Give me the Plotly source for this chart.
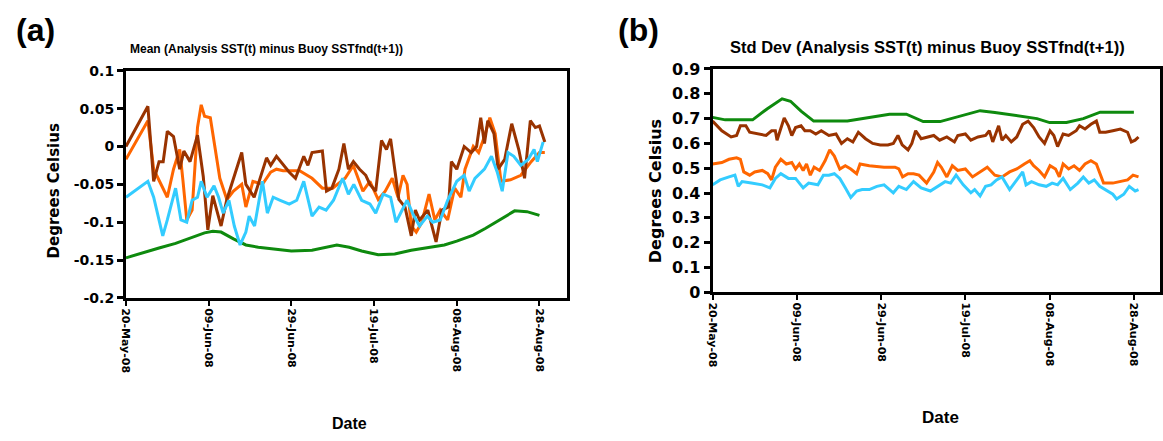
import pandas as pd
import plotly.graph_objects as go

W, H = 1163, 441
BASE = pd.Timestamp("2008-05-20")

# ---------------- Panel (a): Mean ----------------
a_brown_days = [0, 5.3, 6.7, 8, 9, 10, 11.5, 13, 14, 15.5, 17.3, 18.7, 19.8, 21, 23, 24.4, 28, 29, 31, 34, 35, 36.4,
                39.5, 41, 43, 44, 45, 47.5, 48.5, 49.8, 51.5, 52.7, 53.8, 55, 56.5, 58, 59, 60.4, 61.8, 63, 64, 65,
                66, 67.5, 69, 70, 71, 73, 75, 76.4, 78, 78.7, 80, 81.8, 83.5, 84.8, 85.8, 86.7, 87.5, 89, 90, 91.6,
                93.3, 95, 96.4, 97.8, 99, 100, 101.3]
a_brown_vals = [0.0, 0.053, -0.046, -0.02, -0.02, 0.02, 0.013, -0.03, -0.006, -0.02, 0.015, -0.04, -0.11, -0.065,
                -0.105, -0.07, -0.008, -0.05, -0.067, -0.015, -0.025, -0.013, -0.034, -0.042, -0.013, -0.025, -0.008,
                -0.006, -0.059, -0.055, -0.03, 0.004, -0.03, -0.02, -0.03, -0.038, -0.05, -0.059, 0.008, -0.004, 0.01,
                -0.03, -0.07, -0.08, -0.118, -0.084, -0.097, -0.084, -0.126, -0.084, -0.08, -0.02, -0.03, 0.0, -0.008,
                0.0, 0.038, 0.004, 0.034, 0.017, -0.03, -0.017, 0.03, -0.004, -0.042, 0.034, 0.025, 0.027, 0.006]

a_orange_days = [0, 5.3, 6.7, 8.4, 10, 11.5, 13, 13.8, 14.7, 16, 17.3, 18.2, 19, 20.4, 21.8, 22.7, 24.4, 26, 28, 29,
                 30.7, 33, 35, 36.4, 38, 42, 45, 47.5, 50, 53, 55, 57.3, 59, 61, 62.7, 64.4, 65.8, 67, 68, 69, 70.2,
                 71.5, 73.3, 74.7, 76, 77.8, 79.5, 81, 82, 84, 85.3, 86.7, 88, 89.3, 90.7, 93, 95.5, 98, 100, 101.3]
a_orange_vals = [-0.017, 0.034, -0.03, -0.05, -0.067, -0.03, -0.004, -0.046, -0.097, -0.084, 0.025, 0.055, 0.04,
                 0.038, -0.008, -0.042, -0.07, -0.059, -0.05, -0.08, -0.046, -0.05, -0.034, -0.03, -0.032, -0.032,
                 -0.042, -0.055, -0.055, -0.042, -0.025, -0.059, -0.046, -0.07, -0.059, -0.042, -0.067, -0.038,
                 -0.05, -0.105, -0.113, -0.101, -0.063, -0.097, -0.084, -0.097, -0.055, -0.067, -0.03, 0.0, -0.008,
                 0.013, 0.038, 0.017, -0.046, -0.044, -0.038, -0.02, -0.008, -0.008]

a_blue_days = [0, 5.3, 6.7, 8.9, 10, 12, 13.3, 14.7, 16, 17.3, 18.2, 19.6, 21.3, 22.4, 23.5, 24.9, 26.2, 27.6, 29,
               29.8, 31.1, 33, 34.2, 35.6, 37.3, 39.5, 41.3, 43, 45, 46.7, 48.4, 50.2, 52.4, 53.8, 55.1, 57, 59, 60.4,
               62.2, 64, 65.3, 66.7, 68, 69.3, 71, 72.9, 74.2, 76, 77.8, 80, 81.8, 83, 84.4, 86.7, 88.4, 89.8, 91,
               92.4, 93.8, 95.5, 97.3, 98.7, 99.5, 100.9]
a_blue_vals = [-0.067, -0.046, -0.067, -0.118, -0.097, -0.055, -0.097, -0.1, -0.071, -0.067, -0.046, -0.067, -0.052,
               -0.067, -0.088, -0.071, -0.105, -0.13, -0.113, -0.092, -0.105, -0.046, -0.088, -0.067, -0.071, -0.076,
               -0.071, -0.046, -0.092, -0.08, -0.084, -0.071, -0.042, -0.063, -0.05, -0.071, -0.076, -0.088, -0.063,
               -0.067, -0.1, -0.084, -0.071, -0.088, -0.105, -0.092, -0.1, -0.097, -0.071, -0.046, -0.038, -0.059,
               -0.042, -0.03, -0.013, -0.034, -0.059, -0.008, -0.013, -0.025, -0.017, -0.004, -0.02, 0.006]

a_green_days = [0, 4, 8, 12, 16, 19, 21, 23, 26, 29, 32, 36, 40, 45, 48, 51, 54, 57, 61, 65, 69, 73, 77, 80, 84, 87,
                91, 94, 97, 100]
a_green_vals = [-0.147, -0.14, -0.134, -0.128, -0.12, -0.114, -0.112, -0.113, -0.122, -0.13, -0.133, -0.135, -0.138,
                -0.137, -0.133, -0.13, -0.133, -0.138, -0.143, -0.142, -0.137, -0.133, -0.13, -0.125, -0.117, -0.108,
                -0.095, -0.085, -0.086, -0.091]

# ---------------- Panel (b): Std Dev ----------------
b_brown_days = [0, 2.2, 4.4, 5.7, 6.6, 7.9, 8.8, 11, 12.7, 14, 14.9, 15.3, 16.2, 17, 18, 18.8, 19.7, 21, 21.9, 23.2,
                24.5, 25.8, 27.6, 29.3, 30.6, 32, 33.3, 34.6, 36.3, 38, 39.8, 41.6, 42.9, 44, 45, 46.4, 47.3, 48.2,
                49.5, 51.2, 52.5, 53.9, 55.6, 57.4, 58.2, 60, 61.3, 63, 64.8, 65.7, 66.5, 67.9, 68.7, 69.6, 70.9,
                72.2, 73.6, 74.9, 76.2, 77.5, 78.8, 80.1, 81, 81.9, 83.2, 84.5, 86.3, 87.1, 88.4, 89.8, 91.1, 91.9,
                93.3, 95, 96.8, 98.5, 99.4, 100.3, 101.1]
b_brown_vals = [0.690, 0.651, 0.626, 0.632, 0.671, 0.671, 0.645, 0.638, 0.632, 0.651, 0.651, 0.613, 0.664, 0.703,
                0.671, 0.632, 0.664, 0.671, 0.651, 0.651, 0.638, 0.651, 0.632, 0.638, 0.600, 0.619, 0.606, 0.645,
                0.619, 0.600, 0.594, 0.594, 0.600, 0.632, 0.594, 0.574, 0.600, 0.651, 0.619, 0.626, 0.632, 0.613,
                0.626, 0.606, 0.632, 0.638, 0.613, 0.626, 0.632, 0.651, 0.606, 0.671, 0.613, 0.632, 0.606, 0.626,
                0.677, 0.690, 0.664, 0.626, 0.600, 0.651, 0.632, 0.587, 0.638, 0.632, 0.651, 0.671, 0.658, 0.677,
                0.690, 0.645, 0.645, 0.651, 0.658, 0.645, 0.606, 0.613, 0.626]

b_orange_days = [0, 2.2, 3.9, 5.7, 6.6, 7.4, 8.8, 10, 11.8, 13.1, 14, 14.9, 16.2, 17.5, 18.8, 19.7, 20.6, 21.5, 22.3,
                 23.2, 24.1, 25.4, 26.7, 27.8, 28.9, 30.2, 31.5, 32.8, 34.2, 35, 37.2, 40.7, 43.3, 44.2, 45.1, 46.4,
                 47.7, 49, 50.8, 52.5, 53.4, 54.3, 55.6, 56.9, 58.2, 60, 61.7, 63.5, 65.2, 67, 68.7, 70.5, 72.2, 74,
                 75.3, 76.2, 77.5, 78.8, 80.1, 81.4, 82.3, 83.2, 84.5, 85.8, 87.1, 88.4, 89.8, 91.1, 91.9, 92.8, 95,
                 96.8, 98.5, 99.8, 101.1]
b_orange_vals = [0.517, 0.523, 0.536, 0.542, 0.536, 0.485, 0.472, 0.485, 0.491, 0.478, 0.453, 0.504, 0.536, 0.517,
                 0.523, 0.497, 0.517, 0.491, 0.517, 0.472, 0.504, 0.491, 0.530, 0.574, 0.549, 0.497, 0.510, 0.497,
                 0.478, 0.517, 0.510, 0.504, 0.504, 0.497, 0.465, 0.478, 0.478, 0.472, 0.440, 0.485, 0.523, 0.504,
                 0.465, 0.510, 0.491, 0.497, 0.465, 0.485, 0.504, 0.472, 0.465, 0.485, 0.497, 0.517, 0.530, 0.510,
                 0.491, 0.465, 0.510, 0.497, 0.465, 0.517, 0.497, 0.510, 0.491, 0.517, 0.530, 0.517, 0.478, 0.440,
                 0.440, 0.446, 0.453, 0.472, 0.465]

b_blue_days = [0, 1.8, 3.9, 5.3, 6.1, 7, 9.2, 11.8, 13.6, 14.9, 16.2, 18, 19.7, 21.5, 22.8, 25, 26.3, 27.6, 28.9,
               30.2, 31.5, 32.8, 34.2, 35.5, 37.2, 39, 40.7, 42.9, 44.2, 46, 47.7, 49.5, 51.7, 53.4, 55.2, 56.5, 57.8,
               59.5, 61.3, 62.2, 63.5, 64.8, 66.1, 67.4, 68.7, 70.5, 72.2, 73.6, 74.4, 75.7, 77.5, 79.2, 80.6, 81.9,
               83.2, 84.9, 86.7, 88, 89.3, 90.6, 91.9, 93.3, 95, 95.9, 97.6, 98.9, 100.3, 101.1]
b_blue_vals = [0.433, 0.453, 0.465, 0.472, 0.427, 0.446, 0.440, 0.433, 0.421, 0.459, 0.478, 0.459, 0.459, 0.421,
               0.440, 0.433, 0.472, 0.472, 0.478, 0.459, 0.421, 0.382, 0.408, 0.414, 0.414, 0.427, 0.433, 0.401,
               0.427, 0.414, 0.446, 0.421, 0.408, 0.427, 0.446, 0.440, 0.472, 0.433, 0.401, 0.414, 0.388, 0.427,
               0.433, 0.453, 0.465, 0.414, 0.453, 0.485, 0.433, 0.446, 0.433, 0.427, 0.440, 0.433, 0.459, 0.414,
               0.440, 0.465, 0.440, 0.453, 0.427, 0.414, 0.395, 0.376, 0.395, 0.427, 0.408, 0.414]

b_green_days = [0, 3, 9.5, 13, 16.5, 18.5, 21, 24, 32, 37, 42, 46, 50, 54, 59, 63.5, 67, 72, 77, 80, 84, 88, 92, 100]
b_green_vals = [0.705, 0.695, 0.695, 0.74, 0.78, 0.77, 0.73, 0.69, 0.69, 0.705, 0.718, 0.718, 0.688, 0.688, 0.712,
                0.732, 0.725, 0.712, 0.70, 0.684, 0.684, 0.70, 0.726, 0.726]

a_yticks = [0.1, 0.05, 0, -0.05, -0.1, -0.15, -0.2]
a_yticktext = ["0.1", "0.05", "0", "-0.05", "-0.1", "-0.15", "-0.2"]
b_yticks = [0, 0.1, 0.2, 0.3, 0.4, 0.5, 0.6, 0.7, 0.8, 0.9]
b_yticktext = ["0", "0.1", "0.2", "0.3", "0.4", "0.5", "0.6", "0.7", "0.8", "0.9"]

title_a = "Mean (Analysis SST(t) minus Buoy SSTfnd(t+1))"
title_b = "Std Dev (Analysis SST(t) minus Buoy SSTfnd(t+1))"

BROWN, ORANGE, BLUE, GREEN = "#993300", "#FF6600", "#33CCFF", "#0E8A0E"
FONT = "Liberation Sans, Arial, sans-serif"
WIDE = "DejaVu Sans, sans-serif"


def to_dates(days):
    return [BASE + pd.Timedelta(days=d) for d in days]


fig = go.Figure()
panels = [
    ("x", "y", [(a_green_days, a_green_vals, GREEN), (a_orange_days, a_orange_vals, ORANGE),
                (a_brown_days, a_brown_vals, BROWN), (a_blue_days, a_blue_vals, BLUE)]),
    ("x2", "y2", [(b_green_days, b_green_vals, GREEN), (b_orange_days, b_orange_vals, ORANGE),
                  (b_brown_days, b_brown_vals, BROWN), (b_blue_days, b_blue_vals, BLUE)]),
]
for xa, ya, series in panels:
    for days, vals, col in series:
        fig.add_trace(go.Scatter(x=to_dates(days), y=vals, mode="lines", xaxis=xa, yaxis=ya,
                                 line=dict(color=col, width=3), showlegend=False, hoverinfo="skip"))


def px_x(p):
    return p / W


def px_y(p):
    return 1 - p / H


common_x = dict(type="date", tickformat="%d-%b-%y", tick0="2008-05-20", dtick=20 * 86400000,
                tickangle=90, ticks="outside", ticklen=5, tickwidth=2, tickcolor="black",
                showline=True, linecolor="black", linewidth=3, mirror=True, showgrid=False, zeroline=False,
                tickfont=dict(family=WIDE, size=11, color="black", weight="bold"))
common_y = dict(ticks="outside", ticklen=6, tickwidth=3, tickcolor="black",
                showline=True, linecolor="black", linewidth=3, mirror=True, showgrid=False, zeroline=False)

fig.update_layout(
    width=W, height=H, margin=dict(l=0, r=0, t=0, b=0),
    paper_bgcolor="white", plot_bgcolor="white", showlegend=False,
    xaxis=dict(common_x, domain=[px_x(120), px_x(565)], anchor="y",
               range=[BASE, BASE + pd.Timedelta(days=106.7)]),
    yaxis=dict(common_y, domain=[px_y(302), px_y(64.5)], anchor="x", range=[-0.2, 0.1],
               tickvals=a_yticks, ticktext=a_yticktext,
               tickfont=dict(family=WIDE, size=14, color="black", weight="bold")),
    xaxis2=dict(common_x, domain=[px_x(711.7), 1.0], anchor="y2",
                range=[BASE, BASE + pd.Timedelta(days=106.2)]),
    yaxis2=dict(common_y, domain=[px_y(296), px_y(62.7)], anchor="x2", range=[0, 0.9],
                tickvals=b_yticks, ticktext=b_yticktext,
                tickfont=dict(family=WIDE, size=16, color="black", weight="bold")),
)

ann = [
    ("(a)", 7, 22, 32, 0, "left", FONT),
    ("(b)", 614, 22, 32, 0, "left", FONT),
    (title_a, 262, 42, 12, 0, "center", FONT),
    (title_b, 928, 40, 16.5, 0, "center", FONT),
    ("Degrees Celsius", 47, 190, 15, -90, "center", WIDE),
    ("Degrees Celsius", 654, 190, 16, -90, "center", WIDE),
    ("Date", 345, 433, 16, 0, "center", FONT),
    ("Date", 942, 427, 17, 0, "center", FONT),
]
for text, x, y, size, ang, xanchor, fam in ann:
    fig.add_annotation(text=text, x=px_x(x), y=px_y(y), xref="paper", yref="paper",
                       xanchor=xanchor, yanchor="middle", showarrow=False, textangle=ang,
                       font=dict(family=fam, size=size, color="black", weight="bold"))

fig.write_html("out.html", config={"displayModeBar": False},
               post_script="document.body.style.margin='0';document.body.style.overflow='hidden';")
